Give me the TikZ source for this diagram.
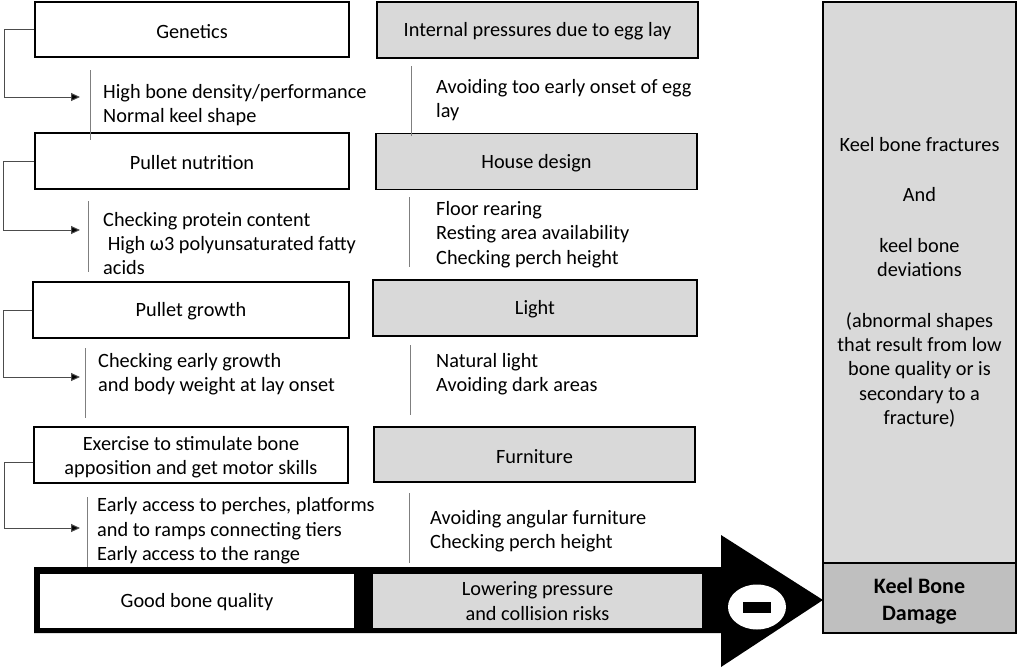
\documentclass[tikz,border=0pt]{standalone}
\usepackage{fontspec}
\setmainfont{Carlito}
\usetikzlibrary{arrows.meta,shapes.geometric}
\definecolor{boxgrey}{HTML}{D9D9D9}
\definecolor{darkgrey}{HTML}{BFBFBF}
\definecolor{linegrey}{HTML}{7F7F7F}
\tikzset{
box/.style={draw=black,line width=1.3pt,fill=white,minimum height=56pt,inner sep=2pt,align=center,font=\fontsize{20.3}{24.4}\selectfont,execute at begin node={\rule{0pt}{0.85em}}},
greybox/.style={box,fill=boxgrey},
note/.style={anchor=west,inner sep=0pt,align=left,font=\fontsize{20.3}{24.4}\selectfont},
sepline/.style={draw=linegrey,line width=0.9pt},
elbow/.style={draw=black!70,line width=1pt,-{Triangle[length=9pt,width=8pt,fill=black]}},
}
\begin{document}
\begin{tikzpicture}[x=1pt,y=-1pt]
\useasboundingbox (0,0) rectangle (1021,670);

% left column
\node (gen) [box,minimum width=314pt,minimum height=55pt] at (192,29.5) {Genetics};
\node (nut) [box,minimum width=314pt] at (192,161) {Pullet nutrition};
\node (gro) [box,minimum width=316pt] at (191,310) {Pullet growth};
\node (exe) [box,minimum width=314pt] at (191,455) {\rule{0pt}{19pt}Exercise to stimulate bone\\apposition and get motor skills};

\node (gent) [note] at (103,105) {High bone density/performance\\Normal keel shape};
\node (nutt) [note] at (103,243.5) {Checking protein content\\\ High ω3 polyunsaturated fatty\\acids};
\node (grot) [note] at (98,374) {Checking early growth\\and body weight at lay onset};
\node (exet) [note] at (97,531) {Early access to perches, platforms\\and to ramps connecting tiers\\Early access to the range};

% middle column
\node (int) [greybox,minimum width=321pt] at (537.5,30) {Internal pressures due to egg lay};
\node (hou) [greybox,minimum width=321pt] at (536.5,161.5) {House design};
\node (lig) [greybox,minimum width=324pt] at (535,308) {Light};
\node (fur) [greybox,minimum width=321pt,minimum height=55pt] at (534.5,454.5) {Furniture};

\node (intt) [note] at (436,100) {Avoiding too early onset of egg\\lay};
\node (hout) [note] at (436,234.5) {Floor rearing\\Resting area availability\\Checking perch height};
\node (ligt) [note] at (436,374) {Natural light\\Avoiding dark areas};
\node (furt) [note] at (430,531) {Avoiding angular furniture\\Checking perch height};

% separators
\foreach \x/\a/\b in {90/70/140,88/201/272,85/348/418,87/497/567,
411/66/136,409/197/267,410/345/415,409/493/563}
{
\draw[sepline] (\x,\a) -- (\x,\b);
}

% elbows
\coordinate (e1) at (80,97);
\coordinate (e2) at (80,230);
\coordinate (e3) at (80,377);
\coordinate (e4) at (80,528);
\draw[elbow] (gen.west) -- ++(-30,0) |- (e1);
\draw[elbow] (nut.west) -- ++(-31,0) |- (e2);
\draw[elbow] (gro.west) -- ++(-29,0) |- (e3);
\draw[elbow] ([yshift=-7pt]exe.west) -- ++(-29,0) |- (e4);

% big arrow
\fill[black] (34,567) -- (721,567) -- (721,535) -- (823,600) -- (721,667) -- (721,633) -- (34,633) -- cycle;
\node (good) [box,minimum width=316pt] at (197,601) {Good bone quality};
\node (low) [greybox,minimum width=331pt] at (537.5,601) {Lowering pressure\\and collision risks};
\node (sign) [ellipse,fill=white,minimum width=58pt,minimum height=45pt,inner sep=0pt] at (757,607) {};
\fill[black] ([xshift=-14pt,yshift=-5.5pt]sign.center) rectangle ([xshift=14pt,yshift=5.5pt]sign.center);

% right column
\node (frac) [greybox,minimum width=193pt,minimum height=561pt] at (919.5,282.5) {Keel bone fractures\\[26pt]And\\[26pt]keel bone\\deviations\\[26pt](abnormal shapes\\that result from low\\bone quality or is\\secondary to a\\fracture)};
\node (kbd) [box,fill=darkgrey,minimum width=193pt,minimum height=70pt,font=\fontsize{22}{27}\selectfont\bfseries] at (919.5,598) {\rule{0pt}{22.5pt}Keel Bone\\Damage};
\end{tikzpicture}
\end{document}
